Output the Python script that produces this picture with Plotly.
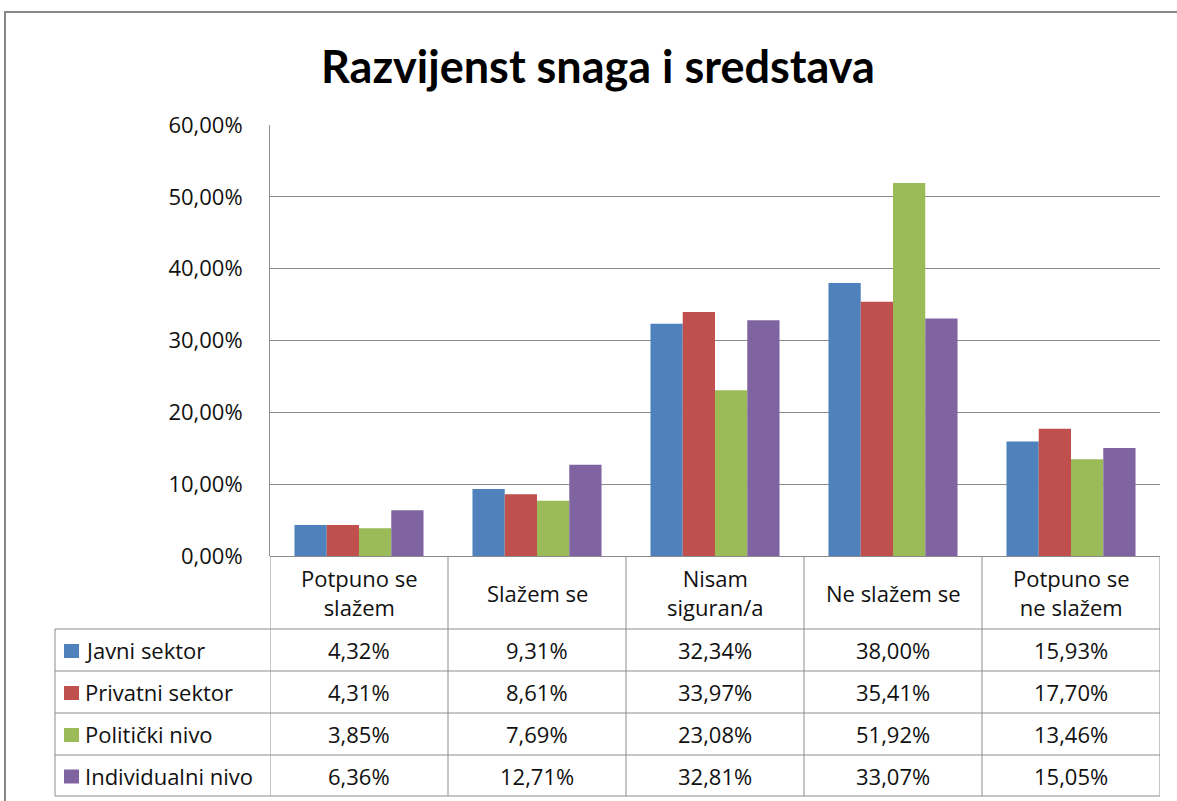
import plotly.graph_objects as go

# ---------------- data ----------------
categories = ["Potpuno se<br>slažem", "Slažem se", "Nisam<br>siguran/a", "Ne slažem se", "Potpuno se<br>ne slažem"]
series_names = ["Javni sektor", "Privatni sektor", "Politički nivo", "Individualni nivo"]
javni = [4.32, 9.31, 32.34, 38.00, 15.93]
privatni = [4.31, 8.61, 33.97, 35.41, 17.70]
politicki = [3.85, 7.69, 23.08, 51.92, 13.46]
individualni = [6.36, 12.71, 32.81, 33.07, 15.05]
series_values = [javni, privatni, politicki, individualni]
colors = ["#4F81BD", "#C0504D", "#9BBB59", "#8064A2"]
tick_vals = [0, 10, 20, 30, 40, 50, 60]
tick_labels = ["0,00%", "10,00%", "20,00%", "30,00%", "40,00%", "50,00%", "60,00%"]
title = "Razvijenst snaga i sredstava"

# ---------------- layout geometry (pixels) ----------------
W, H = 1177, 801
PL, PR, PT, PB = 270, 1160, 125, 556   # plot area
FONT = "'Open Sans', Lato, sans-serif"
TITLE_FONT = "Lato, 'Open Sans', sans-serif"
GRID = "#8C8C8C"
TXT = "#111111"


def px_x(px):
    return (px - PL) / (PR - PL)


def px_y(py):
    return (PB - py) / (PB - PT)


def fmt(v):
    return f"{v:.2f}".replace(".", ",") + "%"


fig = go.Figure()
for name, vals, col in zip(series_names, series_values, colors):
    fig.add_trace(go.Bar(
        x=list(range(len(categories))), y=vals, name=name,
        marker=dict(color=col, line=dict(width=0)),
        hoverinfo="y+name",
    ))

shapes = []
annotations = []

# outer chart border
shapes.append(dict(type="rect", xref="paper", yref="paper",
                   x0=px_x(5), x1=px_x(W + 10), y0=px_y(12), y1=px_y(H + 10),
                   line=dict(color="#878787", width=2), fillcolor="rgba(0,0,0,0)", layer="below"))

# table geometry
header_bottom = 629
row_lines = [629, 671, 713, 755, 796]
table_left = 55

n = len(categories)
for k in range(n + 1):
    shapes.append(dict(type="line", xref="x", yref="paper",
                       x0=k - 0.5, x1=k - 0.5, y0=px_y(PB), y1=px_y(row_lines[-1]),
                       line=dict(color=GRID, width=1)))
shapes.append(dict(type="line", xref="paper", yref="paper",
                   x0=px_x(table_left), x1=px_x(table_left), y0=px_y(row_lines[0]), y1=px_y(row_lines[-1]),
                   line=dict(color=GRID, width=1)))
for ry in row_lines:
    shapes.append(dict(type="line", xref="paper", yref="paper",
                       x0=px_x(table_left), x1=1, y0=px_y(ry), y1=px_y(ry),
                       line=dict(color=GRID, width=1)))

# header (category labels)
for k, c in enumerate(categories):
    annotations.append(dict(x=k, y=px_y((PB + header_bottom) / 2), xref="x", yref="paper",
                            text=c, showarrow=False, xanchor="center", yanchor="middle",
                            font=dict(family=FONT, size=22, color=TXT)))

# rows
for r, (name, vals, col) in enumerate(zip(series_names, series_values, colors)):
    top, bot = row_lines[r], row_lines[r + 1]
    cy = (top + bot) / 2
    shapes.append(dict(type="rect", xref="paper", yref="paper",
                       x0=px_x(64), x1=px_x(79), y0=px_y(cy - 6), y1=px_y(cy + 8),
                       fillcolor=col, line=dict(width=0)))
    annotations.append(dict(x=px_x(83), y=px_y(cy), xref="paper", yref="paper",
                            text=name, showarrow=False, xanchor="left", yanchor="middle",
                            font=dict(family=FONT, size=22, color=TXT)))
    for k, v in enumerate(vals):
        annotations.append(dict(x=k, y=px_y(cy), xref="x", yref="paper",
                                text=fmt(v), showarrow=False, xanchor="center", yanchor="middle",
                                font=dict(family=FONT, size=22, color=TXT)))

# title
annotations.append(dict(x=px_x(598), y=px_y(66), xref="paper", yref="paper",
                        text=f"<b>{title}</b>", showarrow=False, xanchor="center", yanchor="middle",
                        font=dict(family=TITLE_FONT, size=45, color="#000000")))

fig.update_layout(
    width=W, height=H,
    margin=dict(l=PL, r=W - PR, t=PT, b=H - PB, pad=0),
    paper_bgcolor="white", plot_bgcolor="white",
    showlegend=False,
    barmode="group", bargap=0.275, bargroupgap=0,
    shapes=shapes, annotations=annotations,
    xaxis=dict(range=[-0.5, n - 0.5], showticklabels=False, showgrid=False,
               zeroline=False, showline=False, ticks="", fixedrange=True),
    yaxis=dict(range=[0, 60], tickvals=tick_vals, ticktext=tick_labels,
               showgrid=True, gridcolor=GRID, gridwidth=1,
               zeroline=True, zerolinecolor=GRID, zerolinewidth=1,
               showline=True, linecolor=GRID, linewidth=1,
               ticks="", ticklabelstandoff=22,
               tickfont=dict(family=FONT, size=22, color=TXT), fixedrange=True),
)

fig.write_html("out.html", config={"displayModeBar": False},
               post_script="document.body.style.margin='0';document.body.style.overflow='hidden';")
